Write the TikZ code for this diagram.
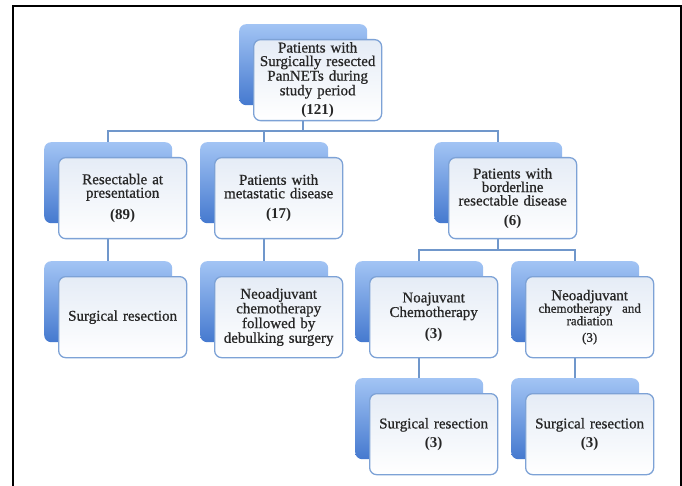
\documentclass[tikz,border=0pt]{standalone}
\usepackage{fontspec}
\setmainfont{Liberation Serif}[UprightFeatures={FakeBold=0.7}]
\usetikzlibrary{backgrounds}
\definecolor{backtop}{HTML}{A2C4F4}
\definecolor{backbot}{HTML}{4579CF}
\definecolor{frontbd}{HTML}{7DA2D6}
\definecolor{fronttop}{HTML}{E5ECF6}
\definecolor{connclr}{HTML}{7097CB}
\tikzset{
  backbox/.style={rectangle, rounded corners=7pt, top color=backtop, bottom color=backbot,
    minimum width=128pt, minimum height=81pt, anchor=north west, inner sep=0pt},
  frontbox/.style={rectangle, rounded corners=7pt, top color=fronttop, bottom color=white,
    draw=frontbd, line width=1.3pt, minimum width=128pt, minimum height=81pt,
    anchor=north west, inner sep=1pt, text width=126pt, align=center,
    font=\fontsize{15}{13.5}\selectfont, text=black!85},
  connline/.style={draw=connclr, line width=1.5pt},
  frameline/.style={draw=black, line width=2pt}
}
\newcommand\pairbox[4]{%
  \node[backbox] (#1B) at ({#2-14},{#3-15}) {};
  \node[frontbox] (#1) at (#2,#3) {#4};}
\begin{document}
\begin{tikzpicture}[x=1pt,y=-1pt]
\useasboundingbox (0,0) rectangle (682,486);
\draw[frameline] (13,487) -- (13,6.3) -- (681,6.3) -- (681,487);

\pairbox{top}{253}{39}{Patients with\\ Surgically resected\\ PanNETs during\\ study period\\[5pt] \textbf{(121)}}
\pairbox{l}{58}{157}{Resectable at\\ presentation\\[7pt] \textbf{(89)}}
\pairbox{m}{214}{157}{Patients with\\ metastatic disease\\[7pt] \textbf{(17)}}
\pairbox{b}{448}{157}{Patients with\\ borderline\\ resectable disease\\[6pt] \textbf{(6)}}
\pairbox{l2}{58}{276}{Surgical resection}
\pairbox{m2}{214}{276}{Neoadjuvant\\ chemotherapy\\ followed by\\ debulking surgery}
\pairbox{n}{369}{276}{Noajuvant\\ Chemotherapy\\[7pt] \textbf{(3)}}
\pairbox{r}{525}{276}{Neoadjuvant\\ {\fontsize{13}{12.5}\selectfont chemotherapy\ \ and\\ radiation\\[3pt] (3)}}
\pairbox{n2}{369}{393}{Surgical resection\\[4pt] \textbf{(3)}}
\pairbox{r2}{525}{393}{Surgical resection\\[4pt] \textbf{(3)}}

\coordinate (bus1) at (0,131);
\coordinate (bus2) at (0,250);
\begin{scope}[on background layer]
\fill[white] (0,0) rectangle (682,486);
\draw[connline] (topB.south |- top.south) -- (topB.south |- bus1);
\draw[connline] (lB.north) -- (lB.north |- bus1) -- (bB.north |- bus1) -- (bB.north);
\draw[connline] (mB.north) -- (mB.north |- bus1);
\draw[connline] (lB.south |- l.south) -- (l2B.north);
\draw[connline] (mB.south |- m.south) -- (m2B.north);
\draw[connline] (bB.south |- b.south) -- (bB.south |- bus2);
\draw[connline] (nB.north) -- (nB.north |- bus2) -- (rB.north |- bus2) -- (rB.north);
\draw[connline] (nB.south |- n.south) -- (n2B.north);
\draw[connline] (rB.south |- r.south) -- (r2B.north);
\end{scope}
\end{tikzpicture}
\end{document}
